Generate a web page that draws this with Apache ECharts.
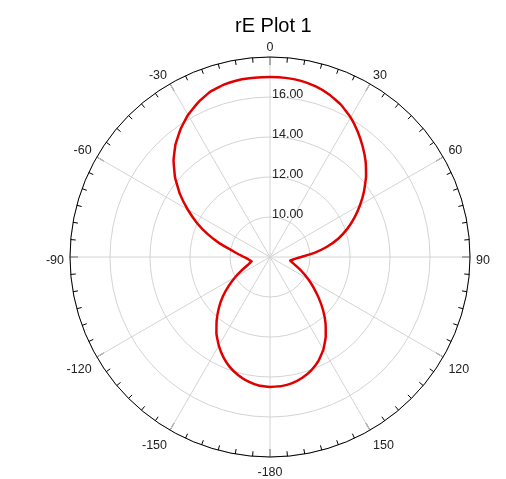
<!DOCTYPE html>
<html>
<head>
<meta charset="utf-8">
<script src="https://cdn.jsdelivr.net/npm/echarts@6/dist/echarts.min.js"></script>
<style>
html,body{margin:0;padding:0;background:#fff;}
#chart{width:506px;height:479px;}
</style>
</head>
<body>
<div id="chart"></div>
<script>
// Angles in degrees (0 at top, clockwise), as shown on the reference axis
var angles = [-180,-175,-170,-165,-160,-155,-150,-145,-140,-135,-130,-125,-120,-115,-110,-105,-103,-100,-95,-90,-85,-80,-75,-70,-65,-60,-55,-50,-45,-40,-35,-30,-25,-20,-15,-10,-5,
  0,5,10,15,20,25,30,35,40,45,50,55,60,65,70,75,80,85,90,95,100,105,110,115,120,125,130,135,140,145,150,155,160,165,170,175,180];
// rE values
var rE = [14.5,14.45,14.32,14.12,13.86,13.52,13.12,12.67,12.15,11.62,11.08,10.52,10.0,9.55,9.2,9.01,8.94,9.0,9.12,9.3,9.58,9.96,10.59,11.3,12.03,12.75,13.5,14.2,14.82,15.35,15.8,16.2,16.52,16.78,16.92,16.99,17.0,
  17.0,16.99,16.94,16.83,16.65,16.4,16.06,15.65,15.21,14.76,14.27,13.74,13.2,12.66,12.11,11.53,10.87,10.2,9.56,9.21,9.02,9.19,9.45,9.8,10.2,10.66,11.18,11.75,12.32,12.86,13.34,13.73,14.03,14.25,14.4,14.48,14.5];
var radiusLabels = [10, 12, 14, 16];
var angleLabels = [0, 30, 60, 90, 120, 150, -180, -150, -120, -90, -60, -30];

var seriesData = angles.map(function (a, i) {
  return [rE[i], a < 0 ? a + 360 : a];
});

var labelFont = {color: '#222', fontFamily: 'Liberation Sans', fontSize: 12.5};

var chart = echarts.init(document.getElementById('chart'), null, {renderer: 'canvas'});
chart.setOption({
  animation: false,
  backgroundColor: '#ffffff',
  title: {
    text: 'rE Plot 1',
    left: 230,
    top: 11,
    textStyle: {fontFamily: 'Liberation Sans', fontSize: 20, fontWeight: 'normal', color: '#000'}
  },
  polar: [
    {center: [270, 257], radius: 200},
    {center: [270, 260.5], radius: 200}
  ],
  angleAxis: [{
    polarIndex: 0,
    type: 'value',
    min: 0,
    max: 360,
    interval: 30,
    startAngle: 90,
    clockwise: true,
    axisLine: {show: true, lineStyle: {color: '#000', width: 1}},
    axisTick: {show: true, inside: true, length: 8, lineStyle: {color: '#000', width: 1}},
    minorTick: {show: true, splitNumber: 6, length: 5, lineStyle: {color: '#000', width: 1}},
    splitLine: {show: true, lineStyle: {color: '#d4d4d4', width: 1}},
    axisLabel: {show: false}
  }, {
    polarIndex: 1,
    type: 'value',
    min: 0,
    max: 360,
    interval: 30,
    startAngle: 90,
    clockwise: true,
    axisLine: {show: false},
    axisTick: {show: false},
    splitLine: {show: false},
    axisLabel: Object.assign({
      margin: 6,
      formatter: function (v) {
        var idx = Math.round(v / 30) % 12;
        return String(angleLabels[idx]);
      }
    }, labelFont)
  }],
  radiusAxis: [{
    polarIndex: 0,
    type: 'value',
    min: 8,
    max: 18,
    interval: 2,
    axisLine: {show: false},
    axisTick: {show: false},
    splitLine: {show: true, lineStyle: {color: '#d4d4d4', width: 1}},
    axisLabel: Object.assign({
      margin: -2,
      align: 'left',
      verticalAlign: 'bottom',
      lineHeight: 4,
      formatter: function (v) {
        return radiusLabels.indexOf(v) >= 0 ? v.toFixed(2) : '';
      }
    }, labelFont)
  }, {
    polarIndex: 1,
    type: 'value',
    min: 8,
    max: 18,
    interval: 2,
    show: false
  }],
  series: [{
    type: 'line',
    coordinateSystem: 'polar',
    polarIndex: 0,
    data: seriesData,
    showSymbol: false,
    smooth: 0.1,
    lineStyle: {color: '#e00000', width: 2.5},
    z: 10
  }]
});
</script>
</body>
</html>
